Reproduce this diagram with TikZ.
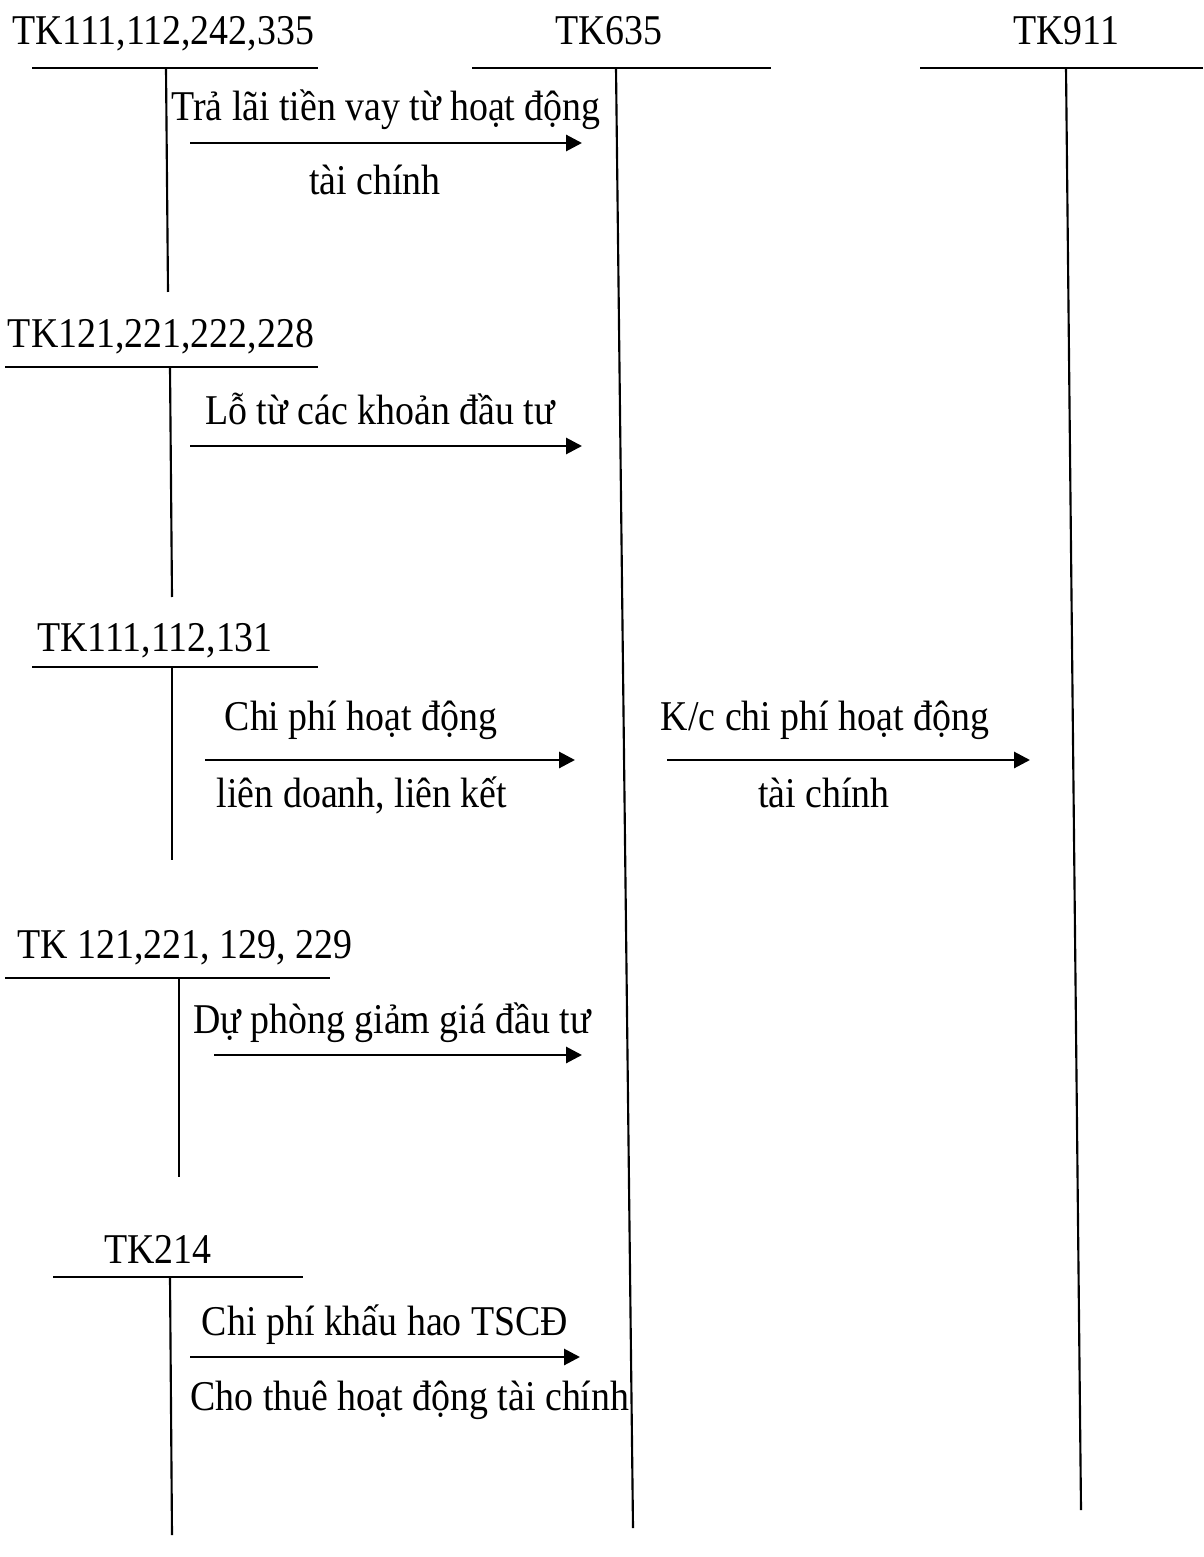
\documentclass[tikz,border=0pt]{standalone}
\usepackage{graphicx}
\usepackage{fontspec}
\setmainfont{Liberation Serif}
\usetikzlibrary{arrows.meta,positioning}
\newcommand{\talltext}[1]{\scalebox{1}[1.12]{#1}}
\tikzset{
  acct name/.style={anchor=base,inner sep=0pt,font=\fontsize{14.2}{17}\selectfont},
  entry text/.style={anchor=base,inner sep=0pt,font=\fontsize{14.2}{17}\selectfont},
  tline/.style={draw=black,line width=0.8pt},
  entry arrow/.style={-{Triangle[length=6pt,width=6pt]},draw=black,line width=1.1pt}
}

\begin{document}
\begin{tikzpicture}[x=0.375pt,y=-0.375pt]
\useasboundingbox (0,0) rectangle (1203,1557);
% ---- account names ----
\foreach \n/\x/\y/\t in {A/163/45/{TK111,112,242,335},B/161/348/{TK121,221,222,228},
    C/155/651/{TK111,112,131},D/185/958/{TK 121,221, 129, 229},E/158/1263/{TK214},
    P/609/45/{TK635},Q/1066/45/{TK911}}{
  \node[acct name] (\n) at (\x,\y) {\talltext{\t}};}
% ---- T accounts ----
\foreach \n/\y/\xl/\xr/\xt/\xb/\yb in {A/68/32/318/166/168/292,B/367/5/318/170/172/597,
    C/667/32/318/172/172/860,D/978/5/330/179/179/1177,E/1277/53/303/170/172/1535,
    P/68/472/771/616/633/1528,Q/68/920/1203/1066/1081/1510}{
  \coordinate (\n-l) at (\xl,\y);
  \coordinate (\n-r) at (\xr,\y);
  \coordinate (\n-t) at (\xt,\y);
  \coordinate (\n-b) at (\xb,\yb);
  \draw[tline] (\n-l) -- (\n-r);
  \draw[tline] (\n-t) -- (\n-b);}
% ---- entries ----
\foreach \n/\xs/\xe/\y in {a/190/582/143,b/190/582/446,c/205/575/760,k/667/1030/760,
    d/214/582/1055,e/190/580/1357}{
  \coordinate (\n-s) at (\xs,\y);
  \coordinate (\n-e) at (\xe,\y);
  \draw[entry arrow] (\n-s) -- (\n-e);}
\node[entry text] (a-up) at (386,121) {\talltext{Trả lãi tiền vay từ hoạt động}};
\node[entry text] (a-dn) at (375,195) {\talltext{tài chính}};
\node[entry text] (b-up) at (380,425) {\talltext{Lỗ từ các khoản đầu tư}};
\node[entry text] (c-up) at (361,730) {\talltext{Chi phí hoạt động}};
\node[entry text] (c-dn) at (362,807) {\talltext{liên doanh, liên kết}};
\node[entry text] (k-up) at (825,730) {\talltext{K/c chi phí hoạt động}};
\node[entry text] (k-dn) at (824,807) {\talltext{tài chính}};
\node[entry text] (d-up) at (392,1033) {\talltext{Dự phòng giảm giá đầu tư}};
\node[entry text] (e-up) at (385,1335) {\talltext{Chi phí khấu hao TSCĐ}};
\node[entry text] (e-dn) at (410,1410) {\talltext{Cho thuê hoạt động tài chính}};
\end{tikzpicture}
\end{document}
